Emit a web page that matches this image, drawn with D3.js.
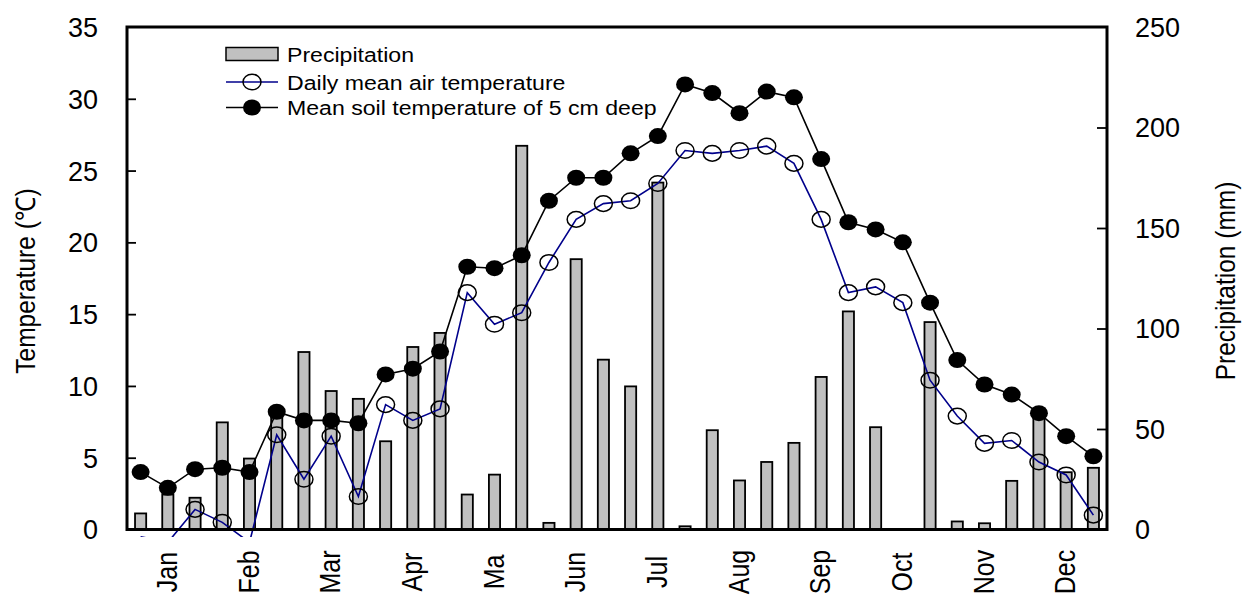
<!DOCTYPE html>
<html>
<head>
<meta charset="utf-8">
<script src="https://cdn.jsdelivr.net/npm/d3@7"></script>
<style>
  html, body { margin: 0; padding: 0; background: #fff; }
  svg { display: block; font-family: "Liberation Sans", Arial, sans-serif; }
</style>
</head>
<body>
<svg id="chart" width="1258" height="599"></svg>
<script>
// Month labels ("Ma" is May as printed on the axis)
const months = ["Jan", "Feb", "Mar", "Apr", "Ma", "Jun", "Jul", "Aug", "Sep", "Oct", "Nov", "Dec"];
// Ten-day periods: three per month
const periods = ["Jan-1","Jan-2","Jan-3","Feb-1","Feb-2","Feb-3","Mar-1","Mar-2","Mar-3",
  "Apr-1","Apr-2","Apr-3","Ma-1","Ma-2","Ma-3","Jun-1","Jun-2","Jun-3",
  "Jul-1","Jul-2","Jul-3","Aug-1","Aug-2","Aug-3","Sep-1","Sep-2","Sep-3",
  "Oct-1","Oct-2","Oct-3","Nov-1","Nov-2","Nov-3","Dec-1","Dec-2","Dec-3"];

// Precipitation per period (mm)
const precipitation = [8.0, 17.4, 15.8, 53.3, 35.3, 55.7, 88.3, 68.9, 65.0, 43.9, 90.8, 97.8,
  17.4, 27.3, 190.9, 3.3, 134.5, 84.5, 71.2, 172.6, 1.6, 49.4, 24.4, 33.6,
  43.1, 75.9, 108.5, 50.9, 0.0, 103.2, 4.0, 3.1, 24.2, 57.0, 28.5, 30.7];

// Daily mean air temperature (°C)
const airTemp = [-0.5, -0.9, 1.4, 0.5, -0.9, 6.6, 3.5, 6.5, 2.3, 8.7, 7.6, 8.4,
  16.5, 14.3, 15.1, 18.6, 21.6, 22.7, 22.9, 24.1, 26.4, 26.2, 26.4, 26.7,
  25.5, 21.6, 16.5, 16.9, 15.8, 10.4, 7.9, 6.0, 6.2, 4.7, 3.8, 1.0];

// Mean soil temperature at 5 cm depth (°C)
const soilTemp = [4.0, 2.9, 4.2, 4.3, 4.0, 8.2, 7.6, 7.6, 7.4, 10.8, 11.2, 12.4,
  18.3, 18.2, 19.1, 22.9, 24.5, 24.5, 26.2, 27.4, 31.0, 30.4, 29.0, 30.5,
  30.1, 25.8, 21.4, 20.9, 20.0, 15.8, 11.8, 10.1, 9.4, 8.1, 6.5, 5.1];

const tempTicks = [0, 5, 10, 15, 20, 25, 30, 35];
const precipTicks = [0, 50, 100, 150, 200, 250];

const legendItems = ["Precipitation", "Daily mean air temperature", "Mean soil temperature of 5 cm deep"];

// ---- layout ----
const plotLeft = 127, plotRight = 1107, plotTop = 27, plotBottom = 529.5;
const svg = d3.select("#chart");

const x = d3.scaleBand().domain(periods).range([plotLeft, plotRight]).padding(0);
const yT = d3.scaleLinear().domain([0, 35]).range([plotBottom, plotTop]);
const yP = d3.scaleLinear().domain([0, 250]).range([plotBottom, plotTop]);
const cx = d => x(d) + x.bandwidth() / 2;
const barW = x.bandwidth() * 0.41;

const fontAxis = 27;
const stretch = 1.1; // glyphs are drawn slightly wide

// ---- clip for the air-temperature series (dips just below the axis) ----
const defs = svg.append("defs");
defs.append("clipPath").attr("id", "clipLine")
  .append("rect").attr("x", plotLeft).attr("y", plotTop)
  .attr("width", plotRight - plotLeft).attr("height", plotBottom - plotTop + 7.5);

// ---- bars ----
svg.append("g").selectAll("rect")
  .data(periods.map((p, i) => ({ p, v: precipitation[i] })).filter(d => d.v > 0))
  .join("rect")
  .attr("x", d => cx(d.p) - barW / 2)
  .attr("y", d => yP(d.v))
  .attr("width", barW)
  .attr("height", d => yP(0) - yP(d.v))
  .attr("fill", "#c0c0c0")
  .attr("stroke", "#000")
  .attr("stroke-width", 1.8);

// ---- air temperature line + open markers ----
const airData = periods.map((p, i) => ({ p, v: airTemp[i] }));
const soilData = periods.map((p, i) => ({ p, v: soilTemp[i] }));

const airG = svg.append("g").attr("clip-path", "url(#clipLine)");
airG.append("path")
  .datum(airData)
  .attr("fill", "none")
  .attr("stroke", "#00008b")
  .attr("stroke-width", 1.6)
  .attr("d", d3.line().x(d => cx(d.p)).y(d => yT(d.v)));
airG.selectAll("ellipse")
  .data(airData.filter(d => d.v >= 0))
  .join("ellipse")
  .attr("cx", d => cx(d.p))
  .attr("cy", d => yT(d.v))
  .attr("rx", 9).attr("ry", 7.8)
  .attr("fill", "none")
  .attr("stroke", "#000")
  .attr("stroke-width", 1.5);

// ---- soil temperature line + filled markers ----
const soilG = svg.append("g");
soilG.append("path")
  .datum(soilData)
  .attr("fill", "none")
  .attr("stroke", "#000")
  .attr("stroke-width", 1.6)
  .attr("d", d3.line().x(d => cx(d.p)).y(d => yT(d.v)));
soilG.selectAll("ellipse")
  .data(soilData)
  .join("ellipse")
  .attr("cx", d => cx(d.p))
  .attr("cy", d => yT(d.v))
  .attr("rx", 9).attr("ry", 8)
  .attr("fill", "#000");

// ---- frame ----
svg.append("rect")
  .attr("x", plotLeft).attr("y", plotTop)
  .attr("width", plotRight - plotLeft).attr("height", plotBottom - plotTop)
  .attr("fill", "none").attr("stroke", "#000").attr("stroke-width", 3);

// ---- left axis (ticks point inward) ----
const axL = svg.append("g").attr("transform", `translate(${plotLeft},0)`)
  .call(d3.axisLeft(yT).tickValues(tempTicks).tickSizeInner(-9).tickSizeOuter(0).tickPadding(0).tickFormat(d3.format("d")));
axL.select(".domain").remove();
axL.selectAll(".tick line").attr("stroke", "#000").attr("stroke-width", 1.8)
  .filter(d => d === 0 || d === 35).remove();
axL.selectAll(".tick text")
  .attr("x", 0).attr("dy", "0.35em")
  .attr("font-size", fontAxis).attr("fill", "#000")
  .attr("text-anchor", "end")
  .attr("transform", "translate(-29,0)");

// ---- right axis (ticks point inward) ----
const axR = svg.append("g").attr("transform", `translate(${plotRight},0)`)
  .call(d3.axisRight(yP).tickValues(precipTicks).tickSizeInner(-10).tickSizeOuter(0).tickPadding(0).tickFormat(d3.format("d")));
axR.select(".domain").remove();
axR.selectAll(".tick line").attr("stroke", "#000").attr("stroke-width", 1.8)
  .filter(d => d === 0 || d === 250).remove();
axR.selectAll(".tick text")
  .attr("x", 0).attr("dy", "0.35em")
  .attr("font-size", fontAxis).attr("fill", "#000")
  .attr("text-anchor", "start")
  .attr("transform", "translate(28,0)");

// ---- month labels (rotated) ----
svg.append("g").selectAll("text")
  .data(months)
  .join("text")
  .attr("transform", (m, i) => `translate(${cx(periods[i * 3 + 1]) + 9},572) rotate(-90) scale(1,${stretch + 0.1})`)
  .attr("text-anchor", "middle")
  .attr("font-size", 25)
  .attr("fill", "#000")
  .text(d => d);

// ---- axis titles ----
svg.append("text")
  .attr("transform", `translate(35,281) rotate(-90) scale(1,${stretch})`)
  .attr("text-anchor", "middle")
  .attr("font-size", 24.5)
  .attr("fill", "#000")
  .text("Temperature (℃)");
svg.append("text")
  .attr("transform", `translate(1235,281) rotate(-90) scale(1,${stretch})`)
  .attr("text-anchor", "middle")
  .attr("font-size", 24.5)
  .attr("fill", "#000")
  .text("Precipitation (mm)");

// ---- legend ----
const lg = svg.append("g");
const lgX = 226, lgW = 52, rowY = [54, 82, 107.5];
lg.append("rect").attr("x", lgX).attr("y", rowY[0] - 6.5).attr("width", lgW).attr("height", 13)
  .attr("fill", "#c0c0c0").attr("stroke", "#000").attr("stroke-width", 1.5);
lg.append("line").attr("x1", lgX).attr("x2", lgX + lgW).attr("y1", rowY[1]).attr("y2", rowY[1])
  .attr("stroke", "#00008b").attr("stroke-width", 1.6);
lg.append("ellipse").attr("cx", lgX + lgW / 2).attr("cy", rowY[1]).attr("rx", 9).attr("ry", 7.8)
  .attr("fill", "none").attr("stroke", "#000").attr("stroke-width", 1.5);
lg.append("line").attr("x1", lgX).attr("x2", lgX + lgW).attr("y1", rowY[2]).attr("y2", rowY[2])
  .attr("stroke", "#000").attr("stroke-width", 1.6);
lg.append("ellipse").attr("cx", lgX + lgW / 2).attr("cy", rowY[2]).attr("rx", 9).attr("ry", 8)
  .attr("fill", "#000");
lg.selectAll("text.item")
  .data(legendItems)
  .join("text")
  .attr("class", "item")
  .attr("transform", (d, i) => `translate(287,${rowY[i] + 7.5}) scale(${stretch},1)`)
  .attr("font-size", 21)
  .attr("fill", "#000")
  .text(d => d);
</script>
</body>
</html>
